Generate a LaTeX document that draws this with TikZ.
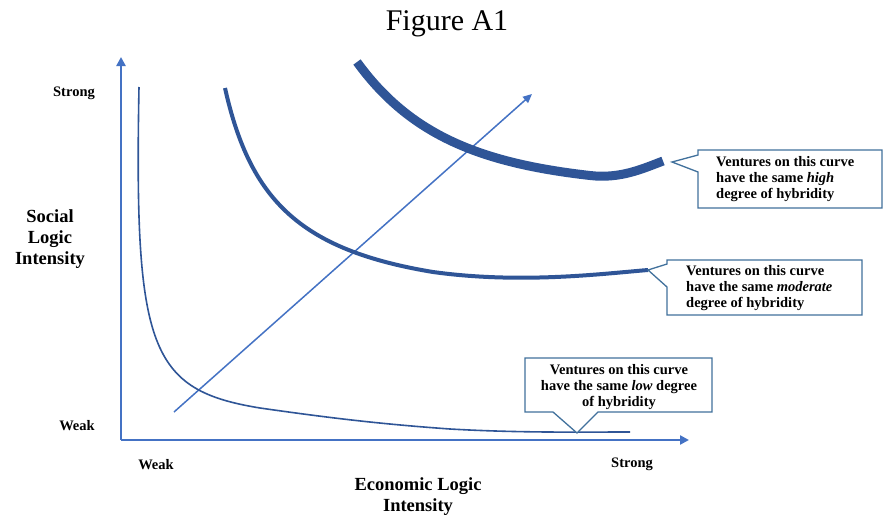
\documentclass[tikz,border=0pt]{standalone}
\usepackage{fontspec}
\setmainfont{Liberation Serif}
\usetikzlibrary{arrows.meta}
\definecolor{axisblue}{HTML}{4472C4}
\definecolor{curveblue}{HTML}{2F5597}
\definecolor{boxline}{HTML}{41719C}
\tikzset{
  axisline/.style={draw=axisblue, line width=2.6pt, -{Triangle[length=9pt,width=9pt]}},
  diagarrow/.style={draw=axisblue, line width=1.5pt, -{Triangle[length=9pt,width=8pt]}},
  curve/.style={draw=curveblue, line cap=butt, line join=round},
  callbox/.style={draw=boxline, line width=1.3pt, fill=white, line join=miter},
  boxtext/.style={font=\fontsize{14.5}{15.8}\selectfont\bfseries, inner sep=0pt},
  vallabel/.style={font=\fontsize{14.5}{16}\selectfont\bfseries, inner sep=0pt},
  axtitle/.style={font=\fontsize{18.5}{21}\selectfont\bfseries, align=center, inner sep=0pt},
}
\begin{document}
\begin{tikzpicture}[x=1pt, y=-1pt]
\useasboundingbox (0,0) rectangle (884,517);
\fill[white] (0,0) rectangle (884,517);

\node[font=\fontsize{30}{34}\selectfont, inner sep=0pt] (title) at (447,24) {Figure A1};

% axes
\coordinate (O) at (121,440);
\coordinate (ytop) at (121,57);
\coordinate (xend) at (689,440);
\draw[axisline] (O) -- (ytop);
\draw[axisline] (O) -- (xend);

% diagonal arrow
\coordinate (dstart) at (174,412);
\coordinate (dend) at (532,94);
\draw[diagarrow] (dstart) -- (dend);

% curves
\draw[curve, line width=1.6pt] (139,87) .. controls (134,350) and (150,390) .. (260,408)
   .. controls (330,418) and (380,424) .. (450,429)
   .. controls (520,433) and (580,432) .. (630,432);
\draw[curve, line width=4pt] (225,88) .. controls (250,200) and (300,250) .. (433,272)
   .. controls (520,284) and (600,274) .. (648,270);
\draw[curve, line width=9pt] (357,62) .. controls (410,135) and (480,163) .. (590,175.5)
   .. controls (620,179) and (642,169) .. (663,161);

% callouts
\draw[callbox] (698,150) -- (882,150) -- (882,208) -- (698,208) -- (698,172) -- (672,162) -- (698,155) -- cycle;
\node[boxtext, anchor=west, align=left] (hightext) at (716,179) {Ventures on this curve\\have the same \textit{high}\\degree of hybridity};

\draw[callbox] (667,260) -- (862,260) -- (862,315) -- (667,315) -- (667,287) -- (648,270) -- (667,264) -- cycle;
\node[boxtext, anchor=west, align=left] (modtext) at (686,288) {Ventures on this curve\\have the same \textit{moderate}\\degree of hybridity};

\draw[callbox] (525,358) -- (712,358) -- (712,412) -- (598,412) -- (577,433) -- (553,412) -- (525,412) -- cycle;
\node[boxtext, align=center] (lowtext) at (619,387) {Ventures on this curve\\have the same \textit{low} degree\\of hybridity};

% axis labels
\node[vallabel] (ystrong) at (74,93) {Strong};
\node[vallabel] (yweak) at (77,426) {Weak};
\node[vallabel] (xweak) at (156,465) {Weak};
\node[vallabel] (xstrong) at (632,464) {Strong};
\node[axtitle] (ytitle) at (50,239) {Social\\Logic\\Intensity};
\node[axtitle] (xtitle) at (418,497) {Economic Logic\\Intensity};
\end{tikzpicture}
\end{document}
